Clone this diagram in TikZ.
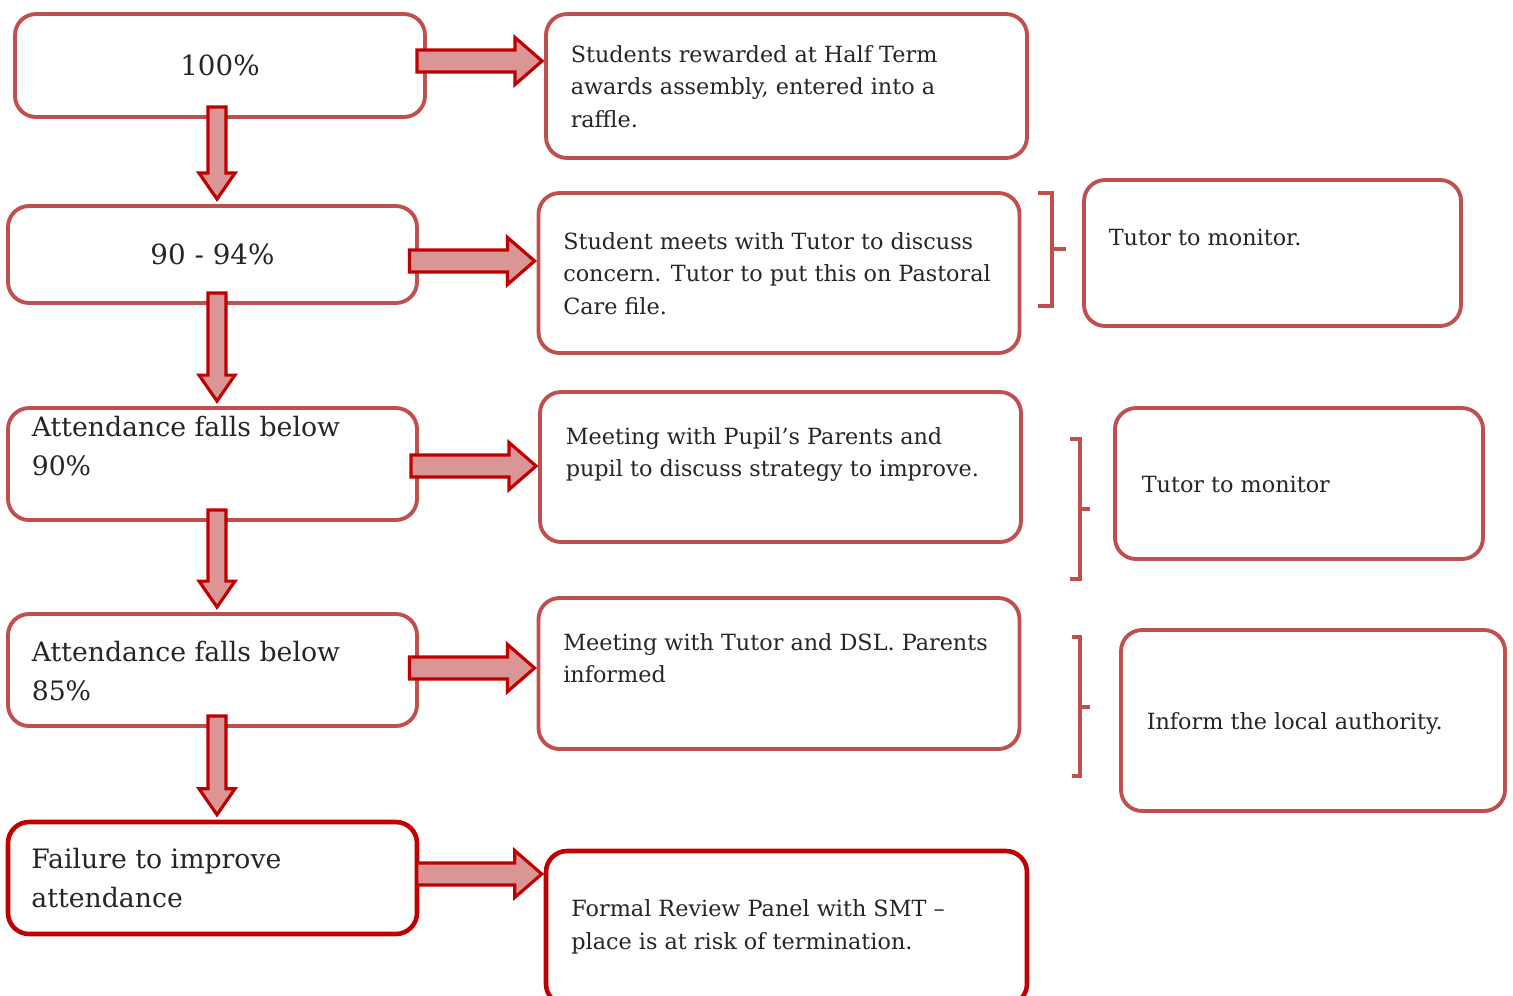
\documentclass[tikz,border=0pt]{standalone}
\usepackage{fontspec}
\setmainfont{DejaVu Serif}
\usepackage{xcolor}
\usetikzlibrary{calc}
\definecolor{boxred}{HTML}{C0504D}
\definecolor{darkred}{HTML}{C00000}
\definecolor{arrowfill}{HTML}{D99694}
\definecolor{inkgray}{HTML}{262626}

% lines hung from the baseline of the first one
\newcommand{\lines}[1]{\begin{tabular}[t]{@{}l@{}}#1\end{tabular}}
% block arrow from the right side of #2 to the left side of #3, raised by #1
\newcommand{\harr}[3][0]{%
	\coordinate (ht) at ($(#2.east -| #3.west)+(-0.02,#1)$);
	\coordinate (hs) at ($(ht)+(-1.25,0)$);
	\draw[blockarr] ($(hs)+(0,0.11)$) -- ($(ht)+(-0.27,0.11)$) -- ($(ht)+(-0.27,0.235)$) -- (ht)
		-- ($(ht)+(-0.27,-0.235)$) -- ($(ht)+(-0.27,-0.11)$) -- ($(hs)+(0,-0.11)$) -- cycle;}
% block arrow from the bottom of #1 down to the top of #2
\newcommand{\varr}[2]{%
	\coordinate (vs) at ($(#1.south -| #2.north)+(0.045,0.12)$);
	\coordinate (vt) at ($(#2.north)+(0.045,0.05)$);
	\draw[blockarr] ($(vs)+(-0.09,0)$) -- ($(vt)+(-0.09,0.26)$) -- ($(vt)+(-0.18,0.26)$) -- (vt)
		-- ($(vt)+(0.18,0.26)$) -- ($(vt)+(0.09,0.26)$) -- ($(vs)+(0.09,0)$) -- cycle;}

\begin{document}
\begin{tikzpicture}[
				lbox/.style={rounded corners=6pt,draw=boxred,line width=1.1pt,fill=white,
						minimum width=4.09cm,minimum height=1.12cm,inner sep=0pt,text=inkgray,
						font=\fontsize{7.9}{10}\selectfont},
				rbox/.style={rounded corners=6pt,draw=boxred,line width=1.1pt,fill=white,
						minimum width=4.81cm,inner sep=0pt},
				hot/.style={draw=darkred,line width=1.3pt},
				ltxt/.style={anchor=base west,inner sep=0pt,text=inkgray,
						font=\fontsize{7.6}{11.1}\selectfont},
				rtxt/.style={anchor=base west,inner sep=0pt,text=inkgray,
						font=\fontsize{6.35}{9.25}\selectfont},
				blockarr/.style={draw=darkred,line width=0.9pt,fill=arrowfill,line join=miter},
				bracket/.style={draw=boxred,line width=1.1pt}]

				\useasboundingbox (0,0) rectangle (15.13,-9.95);

				% attendance levels
				\node[lbox,minimum width=4.10cm,minimum height=1.03cm] (full) at (2.20,-0.655) {100\%};
				\node[lbox,minimum height=0.97cm] (ninety) at (2.125,-2.545) {90 - 94\%};
				\node[lbox] (below90) at (2.125,-4.64) {};
				\node[lbox] (below85) at (2.125,-6.70) {};
				\node[lbox,hot] (fail) at (2.125,-8.78) {};

				\node[ltxt] at ($(below90.north west)+(0.25,-0.30)$) {\lines{Attendance falls below\\90\%}};
				\node[ltxt] at ($(below85.north west)+(0.25,-0.49)$) {\lines{Attendance falls below\\85\%}};
				\node[ltxt] at ($(fail.north west)+(0.25,-0.49)$) {\lines{Failure to improve\\attendance}};

				% actions
				\node[rbox,minimum height=1.44cm] (act1) at (7.865,-0.86) {};
				\node[rbox,minimum height=1.60cm] (act2) at (7.79,-2.73) {};
				\node[rbox,minimum height=1.50cm] (act3) at (7.805,-4.67) {};
				\node[rbox,minimum height=1.51cm] (act4) at (7.79,-6.735) {};
				\node[rbox,hot,minimum height=1.54cm] (act5) at (7.865,-9.28) {};

				\node[rtxt] at ($(act1.north west)+(0.26,-0.50)$)
				{\lines{Students rewarded at Half Term\\awards assembly, entered into a\\raffle.}};
				\node[rtxt] at ($(act2.north west)+(0.26,-0.58)$)
				{\lines{Student meets with Tutor to discuss\\concern. Tutor to put this on Pastoral\\Care file.}};
				\node[rtxt] at ($(act3.north west)+(0.27,-0.54)$)
				{\lines{Meeting with Pupil’s Parents and\\pupil to discuss strategy to improve.}};
				\node[rtxt] at ($(act4.north west)+(0.26,-0.54)$)
				{\lines{Meeting with Tutor and DSL. Parents\\informed}};
				\node[rtxt] at ($(act5.north west)+(0.27,-0.68)$)
				{\lines{Formal Review Panel with SMT –\\place is at risk of termination.}};

				% follow-up
				\node[rbox,minimum width=3.77cm,minimum height=1.46cm] (mon1) at (12.725,-2.53) {};
				\node[rbox,minimum width=3.68cm,minimum height=1.51cm] (mon2) at (12.99,-4.835) {};
				\node[rbox,minimum width=3.84cm,minimum height=1.81cm] (auth) at (13.13,-7.205) {};

				\node[rtxt] at ($(mon1.north west)+(0.26,-0.67)$) {Tutor to monitor.};
				\node[rtxt] at ($(mon2.north west)+(0.28,-0.86)$) {Tutor to monitor};
				\node[rtxt] at ($(auth.north west)+(0.27,-1.01)$) {Inform the local authority.};

				% brackets
				\draw[bracket] (10.38,-1.93) -- (10.52,-1.93) -- (10.52,-3.06) -- (10.38,-3.06);
				\draw[bracket] (10.52,-2.49) -- (10.66,-2.49);
				\draw[bracket] (10.70,-4.39) -- (10.80,-4.39) -- (10.80,-5.79) -- (10.70,-5.79);
				\draw[bracket] (10.80,-5.09) -- (10.90,-5.09);
				\draw[bracket] (10.72,-6.37) -- (10.80,-6.37) -- (10.80,-7.76) -- (10.72,-7.76);
				\draw[bracket] (10.80,-7.07) -- (10.90,-7.07);

				% arrows
				\varr{full}{ninety}
				\varr{ninety}{below90}
				\varr{below90}{below85}
				\varr{below85}{fail}
				\harr[0.045]{full}{act1}
				\harr[-0.065]{ninety}{act2}
				\harr[-0.02]{below90}{act3}
				\harr[0.02]{below85}{act4}
				\harr[0.04]{fail}{act5}
			\end{tikzpicture}
\end{document}
